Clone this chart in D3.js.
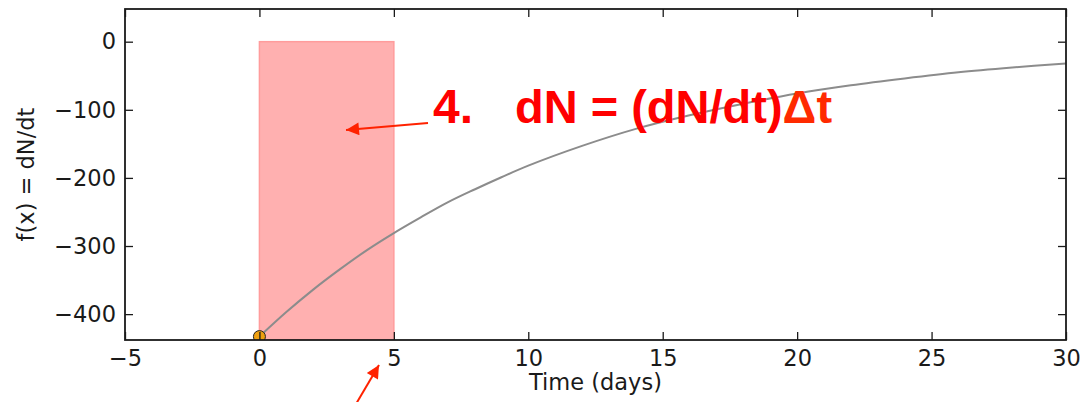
<!DOCTYPE html>
<html>
<meta charset="utf-8">
<title>dN = (dN/dt) dt</title>
<style>
    body { margin: 0; background: #fff; }
    .tick text { font-family: "DejaVu Sans", sans-serif; font-size: 22.5px; fill: #1a1a1a; }
    .spine { fill: none; stroke: #1a1a1a; stroke-width: 1.8px; }
    .curve { fill: none; stroke: #8c8c8c; stroke-width: 2px; }
    .label { font-family: "DejaVu Sans", sans-serif; font-size: 22.5px; fill: #1a1a1a; }
    .note { font-family: "Liberation Sans", Arial, sans-serif; font-weight: bold; fill: #ff0000; }
</style>
<script src="https://cdn.jsdelivr.net/npm/d3@7/dist/d3.min.js"></script>

<body>
<script>
    // values
    let timeDays = [0, 1, 2, 3, 4, 5, 6, 7, 8, 9, 10, 12, 14, 16, 18, 20, 22, 24, 26, 28, 30]
    let rate = [-433, -397, -364, -334, -306, -281, -258, -236, -217, -199, -182, -153, -128, -108, -91, -76, -64, -54, -45, -38, -32]
    let stepWindow = [0, 5]          // the shaded Δt
    let stepTop = 0
    let startPoint = { t: 0, f: -433 }
    let xTicks = [-5, 0, 5, 10, 15, 20, 25, 30]
    let yTicks = [0, -100, -200, -300, -400]
    let xDomain = [-5, 30]
    let yDomain = [-438, 48]

    let W = 1082, H = 402
    let m = { left: 125, right: 16, top: 9, bottom: 62 }
    let iw = W - m.left - m.right, ih = H - m.top - m.bottom

    let svg = d3.select("body").append("svg").attr("width", W).attr("height", H)
    let defs = svg.append("defs")
    defs.append("clipPath").attr("id", "plotclip")
        .append("rect").attr("width", iw).attr("height", ih)
    defs.append("marker").attr("id", "head")
        .attr("viewBox", "0 0 10 10").attr("refX", 10).attr("refY", 5)
        .attr("markerUnits", "userSpaceOnUse")
        .attr("markerWidth", 16).attr("markerHeight", 13)
        .attr("orient", "auto")
        .append("path").attr("d", "M0,0L10,5L0,10Z").attr("fill", "#ff2200")

    let x = d3.scaleLinear().domain(xDomain).range([0, iw])
    let y = d3.scaleLinear().domain(yDomain).range([ih, 0])

    let g = svg.append("g").attr("transform", `translate(${m.left},${m.top})`)
    let plot = g.append("g").attr("clip-path", "url(#plotclip)")

    // shaded step
    plot.append("rect")
        .attr("x", x(stepWindow[0]))
        .attr("y", y(stepTop))
        .attr("width", x(stepWindow[1]) - x(stepWindow[0]))
        .attr("height", y(yDomain[0]) - y(stepTop))
        .attr("fill", "#ffb0b0")
        .attr("stroke", "#ff9c9c").attr("stroke-width", 1.5)

    let line = d3.line()
        .curve(d3.curveCatmullRom)
        .x((d, i) => x(timeDays[i]))
        .y(d => y(d))
    plot.append("path").datum(rate).attr("class", "curve").attr("d", line)

    plot.append("circle")
        .attr("cx", x(startPoint.t)).attr("cy", y(startPoint.f)).attr("r", 6)
        .attr("fill", "#eea010").attr("stroke", "#222").attr("stroke-width", 1)

    // axes, ticks pointing inward like matplotlib classic
    let fmt = d => d < 0 ? "\u2212" + Math.abs(d) : String(d)
    g.append("g").attr("transform", `translate(0,${ih})`)
        .call(d3.axisBottom(x).tickValues(xTicks).tickFormat(fmt).tickSizeInner(-8).tickSizeOuter(0).tickPadding(10))
    g.append("g")
        .call(d3.axisTop(x).tickValues(xTicks).tickFormat("").tickSizeInner(-8).tickSizeOuter(0))
    g.append("g")
        .call(d3.axisLeft(y).tickValues(yTicks).tickFormat(fmt).tickSizeInner(-8).tickSizeOuter(0).tickPadding(9))
    g.append("g").attr("transform", `translate(${iw},0)`)
        .call(d3.axisRight(y).tickValues(yTicks).tickFormat("").tickSizeInner(-8).tickSizeOuter(0))
    g.selectAll(".domain").remove()
    g.selectAll(".tick line").attr("stroke", "#1a1a1a").attr("stroke-width", 1.3)
    g.append("rect").attr("class", "spine").attr("width", iw).attr("height", ih)

    // axis titles
    g.append("text").attr("class", "label")
        .attr("x", iw / 2).attr("y", ih + 50)
        .attr("text-anchor", "middle")
        .text("Time (days)")
    g.append("text").attr("class", "label")
        .attr("transform", `translate(${-91},${ih / 2}) rotate(-90)`)
        .attr("text-anchor", "middle")
        .text("f(x) = dN/dt")

    // annotation
    svg.append("text").attr("class", "note")
        .attr("x", 433).attr("y", 123).style("font-size", "48px")
        .text("4.")
    let eq = svg.append("text").attr("class", "note")
        .attr("x", 515).attr("y", 123).style("font-size", "47px")
    eq.append("tspan").text("dN = (dN/dt)")
    eq.append("tspan").attr("fill", "#ff2a00").text("\u0394t")

    svg.append("line")
        .attr("x1", 428).attr("y1", 123).attr("x2", 346).attr("y2", 130)
        .attr("stroke", "#ff2200").attr("stroke-width", 2)
        .attr("marker-end", "url(#head)")
    svg.append("line")
        .attr("x1", 356).attr("y1", 404).attr("x2", 379).attr("y2", 365)
        .attr("stroke", "#ff2200").attr("stroke-width", 2)
        .attr("marker-end", "url(#head)")
</script>
</body>

</html>
